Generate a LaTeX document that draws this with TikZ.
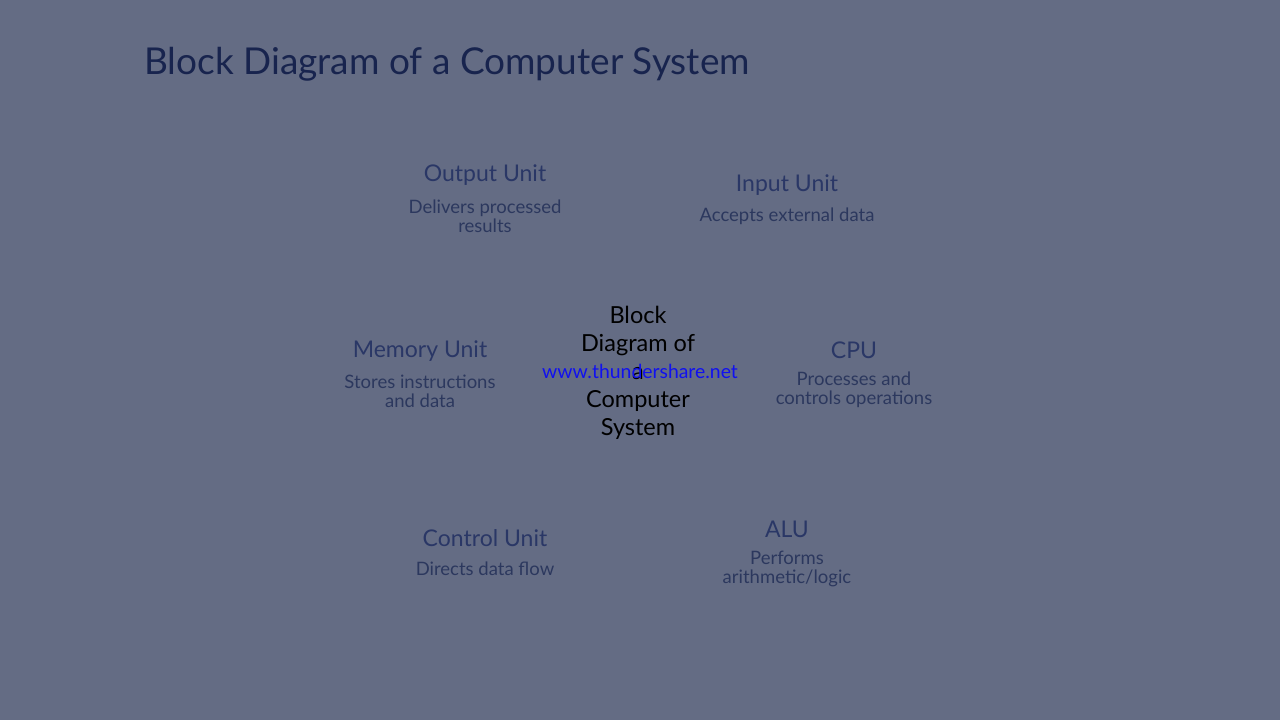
\documentclass[tikz,border=0pt]{standalone}
\usepackage{fontspec}
\setmainfont{Lato}
\usetikzlibrary{positioning}

\definecolor{slidebg}{HTML}{646C84}
\definecolor{titleblue}{HTML}{18244E}
\definecolor{unitblue}{HTML}{2A3766}
\definecolor{descblue}{HTML}{2C385E}
\definecolor{markblue}{HTML}{1010F0}

\tikzset{
    unittitle/.style={text=unitblue, font=\fontsize{23}{26}\selectfont},
    unitdesc/.style={text=descblue, align=center, font=\fontsize{18.5}{19}\selectfont},
    hubtext/.style={text=black, align=center, font=\fontsize{23.5}{28}\selectfont}
}

\begin{document}
\begin{tikzpicture}[x=1pt, y=-1pt]
    % slide background
    \fill[slidebg] (0,0) rectangle (1280,720);
    \useasboundingbox (0,0) rectangle (1280,720);

    % heading
    \node[anchor=west, inner sep=0pt, text=titleblue, font=\fontsize{37}{42}\selectfont] (title) at (144,64) {Block Diagram of a Computer System};

    % centre
    \node[hubtext] (hub) at (638,373) {Block\\Diagram of\\a\\Computer\\System};
    \node[text=markblue, font=\fontsize{19.4}{22}\selectfont] (mark) at (640,371) {www.thundershare.net};

    % output unit
    \node[unittitle] (outp) at (485,175) {Output Unit};
    \node[unitdesc] (outpd) at (485,216) {Delivers processed\\results};

    % input unit
    \node[unittitle] (inp) at (787,185) {Input Unit};
    \node[unitdesc] (inpd) at (787,216) {Accepts external data};

    % memory unit
    \node[unittitle] (mem) at (420,351) {Memory Unit};
    \node[unitdesc] (memd) at (420,391) {Stores instructions\\and data};

    % cpu
    \node[unittitle] (cpu) at (854,350) {CPU};
    \node[unitdesc] (cpud) at (854,390) {Processes and\\controls operations};

    % control unit
    \node[unittitle] (ctrl) at (485,538) {Control Unit};
    \node[unitdesc] (ctrld) at (485,569) {Directs data flow};

    % alu
    \node[unittitle] (alu) at (787,529) {ALU};
    \node[unitdesc] (alud) at (787,569) {Performs\\arithmetic/logic};
\end{tikzpicture}
\end{document}
